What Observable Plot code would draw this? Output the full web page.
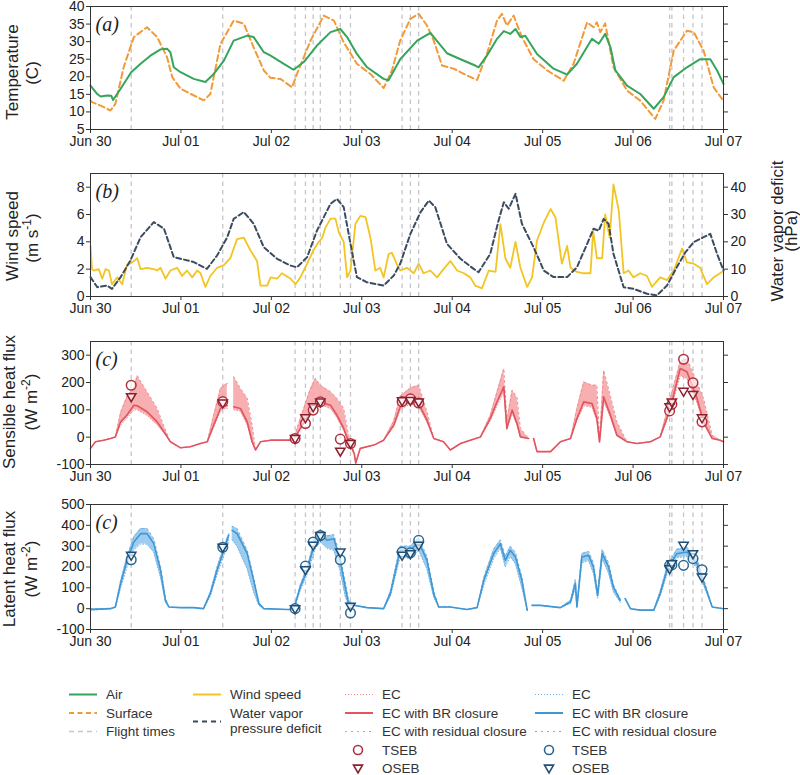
<!DOCTYPE html>
<html><head><meta charset="utf-8">
<script src="https://cdn.jsdelivr.net/npm/d3@7"></script>
<script src="https://cdn.jsdelivr.net/npm/@observablehq/plot@0.6"></script>
<style>
body{margin:0;background:#fff;}
#root{position:relative;width:800px;height:775px;overflow:hidden;font-family:"Liberation Sans",Arial,sans-serif;}
#root > div{position:absolute;left:0;}
</style></head>
<body><div id="root"></div>
<script>
// ---------- axis labels ----------
const dayTicks=[0,24,48,72,96,120,144,168];
const dayLabels=["Jun 30","Jul 01","Jul 02","Jul 03","Jul 04","Jul 05","Jul 06","Jul 07"];
const tempTicks=[5,10,15,20,25,30,35,40];
const windTicks=[0,2,4,6,8];
const vpdTicks=[0,10,20,30,40];
const hTicks=[-100,0,100,200,300];
const leTicks=[-100,0,100,200,300,400,500];

// ---------- flight times (hours since Jun 30 00:00) ----------
const flightHours=[10.8,35.1,54.3,57.05,59.1,61,66.3,69,82.7,84.9,87.1,153.7,154.3,157.4,159.9,162.3];
const tsebH=[190,130,-5,50,99,129,-7,-23,130,140,125,96,120,285,199,56];
const osebH=[148,125,-5,71,111,129,-51,-23,133,134,129,111,129,168,156,71];
const tsebLE=[235,295,0,204,320,351,235,-21,272,268,328,208,210,208,240,187];
const osebLE=[256,295,0,187,304,351,272,12,256,264,304,192,216,304,264,152];

// ---------- (a) temperature [hour, degC] ----------
const airTemp=[[0,17.5],[1.8,15.1],[2.7,14.4],[4.4,14.7],[5.5,14.6],[6,13.4],[8,16.6],[10.8,21.3],[13.3,23.7],[15.9,26],
[18.6,27.8],[20.3,28],[21.2,27],[22.1,22.7],[23.9,21.3],[27.4,19.4],[30.5,18.5],[32.7,20.8],[35.4,24.6],[38,30.3],
[41.6,31.7],[43.3,31.3],[46,27],[47.8,26],[51.3,23.7],[53.9,22],[56.6,24.2],[60.1,28.9],[63.7,32.7],[66.3,33.6],
[68.1,31.3],[70.7,26.5],[73.4,22.7],[77.8,19.4],[79.1,19],[82.2,25],[86.7,30.3],[90.2,32.5],[94.6,26.7],[98.2,25],
[102.1,23.2],[103,22.7],[105.2,26],[107.9,30.8],[109.7,33],[111.4,32.2],[112.8,33.6],[114.1,31.3],[115.4,31.7],[118.5,26.5],
[122.9,22.3],[126.5,20.6],[129.1,23.7],[133.1,30.8],[134.9,29.4],[136.6,32.2],[138,28.4],[139.3,21.8],[142.4,17.5],[145.9,15.1],
[149.5,10.9],[152.1,14.2],[154.8,19.9],[158.3,22.7],[161.8,25],[164.5,25],[166.3,21.8],[168,18]];
const surfaceTemp=[[0,13.2],[0.4,12.8],[2.7,11.8],[5.3,10.4],[6.6,12.3],[8.8,22.7],[11.5,31.3],[15,34.1],[17.7,31.3],[20.3,25.6],
[21.7,19.9],[23.9,16.6],[28.3,14.2],[30.1,13.3],[31.8,15.1],[34.5,29.4],[38,36],[40.7,35.1],[43.3,28.4],[46,21.8],
[47.8,19.7],[50.4,19.4],[53.5,17],[54.8,20.8],[58.4,30.3],[61.9,37.4],[64.6,36],[67.2,29.8],[70.7,23.7],[74.3,20.8],
[77.8,16.8],[80,21.8],[82.2,30.3],[84.9,36.5],[87.1,37.9],[89.3,34.6],[91.1,30.3],[93.3,23.2],[96.4,22.3],[99.9,20.4],
[102.6,19.1],[105.2,26.5],[107.9,36],[109.2,37.9],[110.5,34.6],[112.3,37.4],[114.5,31.3],[117.6,25],[121.2,21.8],[125.6,18.9],
[128.2,23.7],[131.8,35.5],[133.5,34.1],[134.4,35.5],[135.3,32.7],[136.6,35.2],[138.8,22.7],[142.4,16.1],[145.9,13.2],[149.9,8],
[152.1,13.2],[154.8,27.5],[158.3,33.1],[160.1,32.7],[162.7,27.5],[165.4,17],[167.6,13.7]];

// ---------- (b) wind speed [hour, m/s] and VPD [hour, hPa] ----------
const windSpeed=[[0,3.7],[0.4,2.0],[0.9,1.9],[2.2,2.0],[3.1,1.3],[4,2.0],[4.9,1.9],[5.7,0.9],[7.1,1.4],[8.4,0.9],
[9.7,2.3],[11.1,2.5],[12.4,2.8],[13.3,2.0],[15,2.1],[16.8,2.0],[17.7,1.9],[18.6,2.1],[19.9,1.3],[21.2,1.9],
[23,2.1],[24.3,1.5],[25.6,1.9],[27,1.4],[28.3,1.9],[29.2,1.7],[30.5,0.7],[31.8,1.5],[33.6,2.1],[35.4,2.3],
[37.1,2.8],[38.9,4.2],[40.7,4.3],[42.4,3.4],[44.2,2.6],[45.1,0.8],[46.9,0.8],[47.8,1.4],[49.5,1.3],[50.8,1.7],
[53.1,1.3],[54.4,0.9],[55.7,1.4],[57.5,2.4],[59.2,3.4],[60.6,4.0],[61.5,4.3],[62.3,5.0],[63.7,5.7],[65,5.7],
[65.9,4.7],[67.2,4.0],[68.1,1.4],[69,1.9],[70.3,5.3],[71.6,5.9],[73,5.8],[74.3,4.3],[75.6,1.9],[76.9,2.1],
[77.8,1.4],[79.1,3.1],[80,3.2],[81.4,2.3],[82.2,1.9],[84,2.1],[85.8,1.7],[87.1,2.4],[88.4,1.7],[90.2,1.9],
[92,1.4],[93.7,2.0],[95.5,2.6],[97.3,1.9],[99.1,1.7],[100.8,1.4],[102.1,0.8],[103.9,0.6],[105.7,1.9],[107.5,1.8],
[108.8,5.3],[110.1,2.8],[111.4,2.1],[112.8,4.0],[114.1,2.1],[115.9,0.7],[117.2,1.4],[118.5,4.1],[120.3,5.4],[122.1,6.4],
[123.4,5.8],[125.1,2.4],[126.5,3.7],[127.4,2.1],[129.1,1.8],[130.9,1.7],[132.7,1.7],[133.4,4.8],[134.4,2.8],[135.8,2.8],
[136.6,6.0],[137.8,4.3],[138.8,8.2],[140.2,6.3],[141.5,1.7],[142.8,1.9],[144.1,1.4],[145.9,1.7],[147.7,1.5],[149,0.7],
[151.2,1.4],[153,1.2],[154.8,1.9],[157,3.5],[158.3,2.5],[160.1,2.4],[161.8,2.1],[163.6,0.9],[165.4,1.4],[167.6,1.8]];
const vpd=[[0,7.1],[1.8,3.4],[4.4,4.0],[5.7,2.8],[8,7.1],[10.6,13.2],[13.3,21.7],[16.8,27.2],[19.5,24.8],[22.1,14.4],
[23.9,13.8],[27.4,12.6],[30.9,10.1],[33.6,15],[36.3,21.7],[38,28.4],[40.7,30.9],[43.3,26.6],[46,18],[49.5,13.8],
[53.1,11.3],[54.8,10.7],[57.5,14.4],[60.1,24.1],[63.7,33.9],[65.4,35.7],[67.2,32.7],[69,19.3],[70.7,7.1],[73.4,5.2],
[77.8,4.0],[80.5,7.7],[82.2,12],[84.9,22.9],[87.6,30.9],[89.8,35.1],[91.5,32.7],[94.6,19.3],[98.2,13.8],[101.7,10.1],
[103,8.9],[106.1,15.6],[108.3,27.8],[109.7,34.5],[111,32.1],[112.8,37.6],[114.5,26.6],[117.6,18],[120.3,9.5],[122.9,7.1],
[126.5,7.1],[129.1,10.7],[132.2,20.5],[133.5,24.8],[134.9,24.1],[136.2,28.4],[137.5,26.6],[138.8,15.6],[141.5,3.4],[144.1,2.8],
[147.7,1.0],[150.3,0.4],[153,4.0],[155.6,10.7],[157.9,16.2],[160.1,19.9],[162.7,21.7],[164.5,22.9],[166.3,15.6],[168,9.5]];

// ---------- (c) sensible heat flux (W m-2) ----------
const hTime=[0,1.3,3.5,5.3,6.6,8,9.7,11.5,12.4,15,
17.7,19.5,21.2,23.9,26.5,29.2,31,32.7,34.5,35.4,
36.3,37.1,38,39.8,41.6,42.9,43.8,45.1,47.8,51.3,
53.9,55.7,58.4,59.7,61,63.7,65.4,67.2,68.5,70,
70.4,71.6,75.2,77.8,80.5,82.2,84.9,87.1,89.3,91.1,
93.7,95.5,98.2,100.8,103.5,106.1,107.9,109.7,110.5,111.9,
113.2,114.1,116.3,117,117.6,118.5,122.1,124.7,127.4,129.1,
130.9,133.1,134.4,135.1,136.2,138,139.7,142.4,145,148.6,
151.2,153.9,156.5,158.3,161,162.7,165,167.1,168];
const hEC=[-41,-17,-11,-5,1,45,70,100,100,80,
45,15,-17,-39,-35,-23,-17,38,95,105,
105,null,100,95,45,-20,-47,-17,-11,-11,
-11,28,85,100,118,105,72,25,-20,-60,
-95,-41,-29,-11,38,100,122,112,55,-5,
-17,-47,-23,-11,1,60,115,165,28,88,
44,0,-5,null,-5,-53,-53,-17,-5,60,
115,110,60,-20,132,72,5,-17,-23,-17,
1,95,225,215,125,50,-5,-11,-17];
const hBR=[-41,-17,-11,-5,1,56,81,117,115,93,
56,20,-17,-39,-35,-23,-17,44,105,117,
115,null,111,105,56,-17,-47,-17,-11,-11,
-11,32,93,110,129,117,81,32,-17,-60,
-95,-41,-29,-11,44,110,135,123,62,-5,
-17,-47,-23,-11,1,68,129,184,32,99,
50,1,-5,null,-5,-53,-53,-17,-5,68,
129,123,68,-17,148,80,7,-17,-23,-17,
1,105,251,239,141,56,-5,-11,-17];
const hRes=[-41,-17,-11,-5,1,90,150,180,225,166,
105,40,-17,-39,-35,-23,-17,80,178,190,
196,null,221,178,142,44,-47,-17,-11,-11,
-11,68,178,215,190,166,142,105,7,-55,
-90,-41,-29,-11,60,150,180,190,93,-5,
-17,-47,-23,-11,1,80,166,251,60,172,
145,32,-5,null,-5,-53,-53,-17,-5,105,
202,190,190,-10,245,150,56,-17,-23,-17,
1,142,276,288,200,142,7,-11,-17];

// ---------- (d) latent heat flux (W m-2) ----------
const leTime=[0,2.5,5.3,6.6,8,9.7,11.5,13.3,15,16.8,
18.6,19.9,20.8,23.9,27.4,30,31.8,33.6,35.4,36.7,
37.2,37.6,38.9,41.6,43.3,44.7,46,52.2,53.9,55.7,
57.5,59.7,61,62.8,64.6,66.3,67.6,68.5,69.9,73.4,
77.8,79.6,82.2,84.9,87.1,89.3,91.1,92.4,95.5,99.9,
102.6,104.4,107,108.8,110.1,111.4,112.8,114.5,115.9,116.6,
117.2,119.4,124.7,127.4,128.7,129.1,130.4,132.2,133.5,134.6,
135.8,137.5,138.8,140.6,141.2,141.9,143.3,145.9,149.5,151.2,
153,155.6,158.3,161,163.2,165,168];
const leEC=[-8,-4,0,8,100,200,280,310,310,270,
150,30,8,5,5,0,60,165,255,330,
null,330,300,190,80,15,0,-4,-4,90,
165,290,320,290,280,180,60,15,16,5,
0,60,250,240,280,190,55,8,8,-4,
5,115,240,290,200,250,215,100,-7,null,
16,16,5,25,100,8,220,230,170,50,
240,170,80,30,null,48,0,-7,-7,60,
165,245,250,195,90,8,0];
const leBR=[-4,-2,0,8,120,232,320,360,360,312,
184,40,8,5,5,0,72,184,280,352,
null,376,360,264,136,24,0,-4,-4,104,
184,328,360,328,336,232,104,24,16,5,
0,72,280,280,320,232,72,8,8,-4,
5,136,264,312,232,280,248,136,-7,null,
16,16,5,32,120,8,248,256,200,64,
264,200,104,40,null,48,0,-7,-7,72,
184,264,272,216,104,8,0];
const leRes=[0,0,0,8,135,250,345,385,385,335,
200,50,8,5,5,0,80,200,300,360,
null,395,385,280,150,30,0,-4,-4,115,
200,345,380,350,355,250,130,40,16,5,
0,85,300,300,340,250,85,8,8,-4,
5,150,285,330,250,300,270,150,-7,null,
16,16,5,40,140,8,265,275,220,75,
285,220,115,45,null,48,0,-7,-7,85,
200,285,295,240,115,8,0];

// ---------- helpers ----------
const FONT='"Liberation Sans", Arial, sans-serif';
const root=document.getElementById("root");
const C={air:"#35a55c",surf:"#f29a38",wind:"#f2c523",vpd:"#3b4c60",flight:"#c5c5cb",
 hLine:"#e2545f",hBand:"#f6a6a8",hDot:"#ee8d92",hMark:"#b0303f",hTri:"#8a1f2d",
 leLine:"#3f97d6",leBand:"#93c6ec",leDot:"#6fb0e2",leMark:"#2a6792",leTri:"#1e4d75"};
const triDown={draw(ctx,size){const r=Math.sqrt(size/Math.PI);ctx.moveTo(-r*0.98,-r*0.62);ctx.lineTo(r*0.98,-r*0.62);ctx.lineTo(0,r*1.05);ctx.closePath();}};
const xFmt=d=>dayLabels[dayTicks.indexOf(d)];

function place(node,top){const w=document.createElement("div");w.style.top=top+"px";w.appendChild(node);root.appendChild(w);return w;}

function panel({top,height,mt,yDomain,yTicks,label,marks,rightTicks=true}){
  const axes=[
    Plot.frame({stroke:"#333",strokeWidth:1}),
    Plot.axisX({ticks:dayTicks,tickFormat:xFmt,tickSize:4,tickPadding:3,fontSize:14,label:null,stroke:"#333"}),
    Plot.axisY({ticks:yTicks,tickFormat:d=>String(d),tickSize:4,tickPadding:2,fontSize:14,label:null,stroke:"#333"}),
  ];
  if(rightTicks) axes.push(Plot.axisY({anchor:"right",ticks:yTicks,tickFormat:()=>"",tickSize:4,label:null,stroke:"#333"}));
  const p=Plot.plot({width:800,height,marginLeft:90,marginRight:77,marginTop:mt,marginBottom:height-mt-(height===162?125:123),
    x:{domain:[0,168]},y:{domain:yDomain},
    style:{fontFamily:FONT,fontSize:"14px",color:"#222",background:"transparent",overflow:"visible"},
    marks:[
      Plot.ruleX(flightHours,{stroke:C.flight,strokeDasharray:"4.5,4",strokeWidth:1.3}),
      ...marks,
      Plot.text([label],{frameAnchor:"top-left",dx:5,dy:10,fontFamily:'"Liberation Serif","DejaVu Serif",serif',fontStyle:"italic",fontSize:20,fill:"#222"}),
      ...axes
    ]});
  place(p,top);
}

// (a)
panel({top:0,height:160,mt:6,yDomain:[5,40],yTicks:tempTicks,label:"(a)",marks:[
  Plot.line(surfaceTemp,{x:d=>d[0],y:d=>d[1],stroke:C.surf,strokeWidth:2,strokeDasharray:"6,3.5"}),
  Plot.line(airTemp,{x:d=>d[0],y:d=>d[1],stroke:C.air,strokeWidth:2}),
]});

// (b)
panel({top:167,height:160,mt:6,yDomain:[0,9],yTicks:windTicks,label:"(b)",rightTicks:false,marks:[
  Plot.line(windSpeed,{x:d=>d[0],y:d=>d[1],stroke:C.wind,strokeWidth:1.8}),
]});
// VPD overlay with its own right-hand scale
place(Plot.plot({width:800,height:160,marginLeft:90,marginRight:77,marginTop:6,marginBottom:31,
  x:{domain:[0,168],axis:null},y:{domain:[0,45],axis:null},
  style:{fontFamily:FONT,fontSize:"14px",color:"#222",background:"transparent",overflow:"visible"},
  marks:[
    Plot.line(vpd,{x:d=>d[0],y:d=>d[1],stroke:C.vpd,strokeWidth:2,strokeDasharray:"5,3"}),
    Plot.axisY({anchor:"right",ticks:vpdTicks,tickFormat:d=>String(d),tickSize:4,tickPadding:3,fontSize:14,label:null,stroke:"#333"})
  ]}),167);

// (c) sensible heat
panel({top:334,height:160,mt:7,yDomain:[-100,350],yTicks:hTicks,label:"(c)",marks:[
  Plot.areaY(hTime,{x:d=>d,y1:hEC,y2:hRes,fill:C.hBand,fillOpacity:0.9}),
  Plot.line(hTime,{x:d=>d,y:hEC,stroke:C.hDot,strokeWidth:1,strokeDasharray:"1,2"}),
  Plot.line(hTime,{x:d=>d,y:hRes,stroke:C.hDot,strokeWidth:1,strokeDasharray:"2,3"}),
  Plot.line(hTime,{x:d=>d,y:hBR,stroke:C.hLine,strokeWidth:1.6}),
  Plot.dot(flightHours,{x:d=>d,y:tsebH,r:4.8,stroke:C.hMark,fill:"white",fillOpacity:0.6,strokeWidth:1.5}),
  Plot.dot(flightHours,{x:d=>d,y:osebH,r:4.8,symbol:triDown,stroke:C.hTri,fill:"white",fillOpacity:0.6,strokeWidth:1.5}),
]});

// (d) latent heat
panel({top:498,height:162,mt:6,yDomain:[-100,500],yTicks:leTicks,label:"(c)",marks:[
  Plot.areaY(leTime,{x:d=>d,y1:leEC,y2:leRes,fill:C.leBand,fillOpacity:0.9}),
  Plot.line(leTime,{x:d=>d,y:leEC,stroke:C.leDot,strokeWidth:1,strokeDasharray:"1,2"}),
  Plot.line(leTime,{x:d=>d,y:leRes,stroke:C.leDot,strokeWidth:1,strokeDasharray:"2,3"}),
  Plot.line(leTime,{x:d=>d,y:leBR,stroke:C.leLine,strokeWidth:1.6}),
  Plot.dot(flightHours,{x:d=>d,y:tsebLE,r:4.8,stroke:C.leMark,fill:"white",fillOpacity:0.6,strokeWidth:1.5}),
  Plot.dot(flightHours,{x:d=>d,y:osebLE,r:4.8,symbol:triDown,stroke:C.leTri,fill:"white",fillOpacity:0.6,strokeWidth:1.5}),
]});

// ---------- titles & legend overlay ----------
const ov=d3.create("svg").attr("width",800).attr("height",775).style("font-family",FONT).style("pointer-events","none");
place(ov.node(),0).style.zIndex=5;
function vtitle(x,y,parts,size=17){
  const t=ov.append("text").attr("transform",`translate(${x},${y}) rotate(-90)`).attr("text-anchor","middle")
    .attr("font-size",size).attr("fill","#222");
  parts.forEach(p=>{ if(typeof p==="string") t.append("tspan").text(p);
    else t.append("tspan").attr("dy",p.dy).attr("font-size",p.size||size).text(p.t); });
}
vtitle(18,72,["Temperature"]); vtitle(38,73,["(C)"]);
vtitle(18,236,["Wind speed"]); vtitle(38,238,["(m s",{t:"-1",dy:-7,size:12},{t:")",dy:7}]);
vtitle(15,402,["Sensible heat flux"]); vtitle(37,402,["(W m",{t:"-2",dy:-7,size:12},{t:")",dy:7}]);
vtitle(15,569,["Latent heat flux"]); vtitle(37,569,["(W m",{t:"-2",dy:-7,size:12},{t:")",dy:7}]);
vtitle(783,231,["Water vapor deficit"]); vtitle(797,231,["(hPa)"]);

const rows=[694.5,713,731.5,750,768];
const leg=ov.append("g").attr("font-size",13.5).attr("fill","#333");
function lline(x1,y,stroke,dash,w=2){leg.append("line").attr("x1",x1).attr("x2",x1+28).attr("y1",y).attr("y2",y)
  .attr("stroke",stroke).attr("stroke-width",w).attr("stroke-dasharray",dash||null);}
function ltext(x,y,s){leg.append("text").attr("x",x).attr("y",y).attr("dy","0.35em").text(s);}
function lcirc(x,y,stroke){leg.append("circle").attr("cx",x).attr("cy",y).attr("r",4.5).attr("fill","none").attr("stroke",stroke).attr("stroke-width",1.6);}
function ltri(x,y,stroke){const p=d3.path();triDown.draw(p,Math.PI*4.6*4.6);leg.append("path").attr("transform",`translate(${x},${y})`)
  .attr("d",p.toString()).attr("fill","none").attr("stroke",stroke).attr("stroke-width",1.6);}
// column 1
lline(69,rows[0],C.air,null); ltext(106,rows[0],"Air");
lline(69,rows[1],C.surf,"5,3.5"); ltext(106,rows[1],"Surface");
lline(69,rows[2],C.flight,"5,4",1.3); ltext(106,rows[2],"Flight times");
// column 2
lline(193,rows[0],C.wind,null); ltext(230,rows[0],"Wind speed");
lline(193,721.5,C.vpd,"5,4"); ltext(230,713,"Water vapor"); ltext(230,728,"pressure deficit");
// column 3 (sensible)
lline(345,rows[0],C.hDot,"1,2",1.2); ltext(382,rows[0],"EC");
lline(345,rows[1],C.hLine,null); ltext(382,rows[1],"EC with BR closure");
lline(345,rows[2],C.hDot,"2,4",1.2); ltext(382,rows[2],"EC with residual closure");
lcirc(358,rows[3],C.hMark); ltext(382,rows[3],"TSEB");
ltri(358,rows[4],C.hTri); ltext(382,rows[4],"OSEB");
// column 4 (latent)
lline(535,rows[0],C.leDot,"1,2",1.2); ltext(572,rows[0],"EC");
lline(535,rows[1],C.leLine,null); ltext(572,rows[1],"EC with BR closure");
lline(535,rows[2],C.leDot,"2,4",1.2); ltext(572,rows[2],"EC with residual closure");
lcirc(549,rows[3],C.leMark); ltext(572,rows[3],"TSEB");
ltri(549,rows[4],C.leTri); ltext(572,rows[4],"OSEB");
</script></body></html>
